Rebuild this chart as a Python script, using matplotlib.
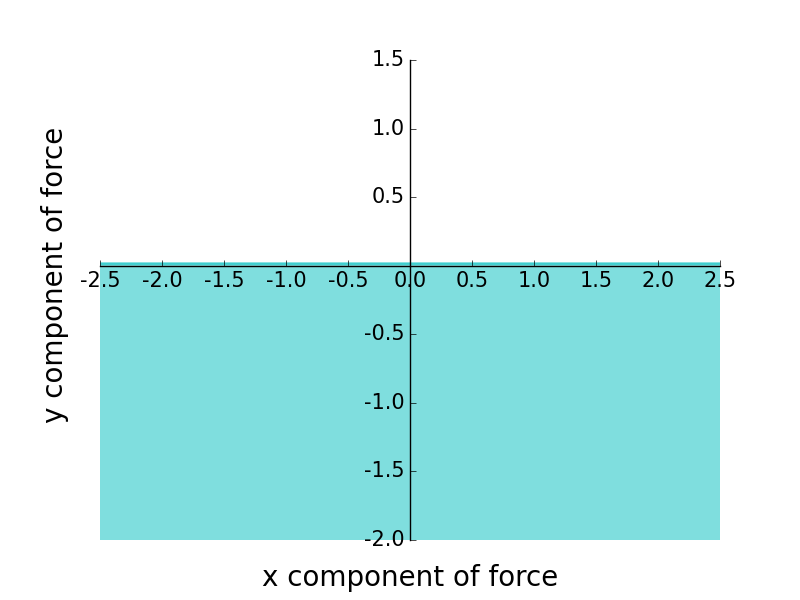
import numpy as np
import matplotlib
matplotlib.use("Agg")
from matplotlib import pyplot as plt

# Region of force space that is shaded
x_range = [-2.5, 2.5]
y_low = -2.0
y_high = 0.02

plt.style.use('classic')
plt.rcParams['axes.unicode_minus'] = False
fig = plt.figure(figsize=(8, 6), dpi=100)
ax = fig.add_subplot(111)

xs = np.array(x_range)
ax.fill_between(xs, y_low, y_high, color='c', alpha=0.5, linewidth=0)
ax.plot(xs, [y_high, y_high], color='c', alpha=0.5, linewidth=2)

ax.set_xlim(-2.5, 2.5)
ax.set_ylim(-2.0, 1.5)
ax.set_xticks(np.arange(-2.5, 2.51, 0.5))
ax.set_yticks([-2.0, -1.5, -1.0, -0.5, 0.5, 1.0, 1.5])

# Move spines to the origin
ax.spines['left'].set_position('zero')
ax.spines['bottom'].set_position('zero')
ax.spines['right'].set_visible(False)
ax.spines['top'].set_visible(False)
ax.xaxis.set_ticks_position('bottom')
ax.yaxis.set_ticks_position('left')
ax.tick_params(labelsize=15)

ax.set_xlabel('x component of force', fontsize=20)
ax.set_ylabel('y component of force', fontsize=20)
ax.xaxis.set_label_coords(0.5, -0.051)
ax.yaxis.set_label_coords(-0.05, 0.552)

fig.savefig('out.png', dpi=100)
